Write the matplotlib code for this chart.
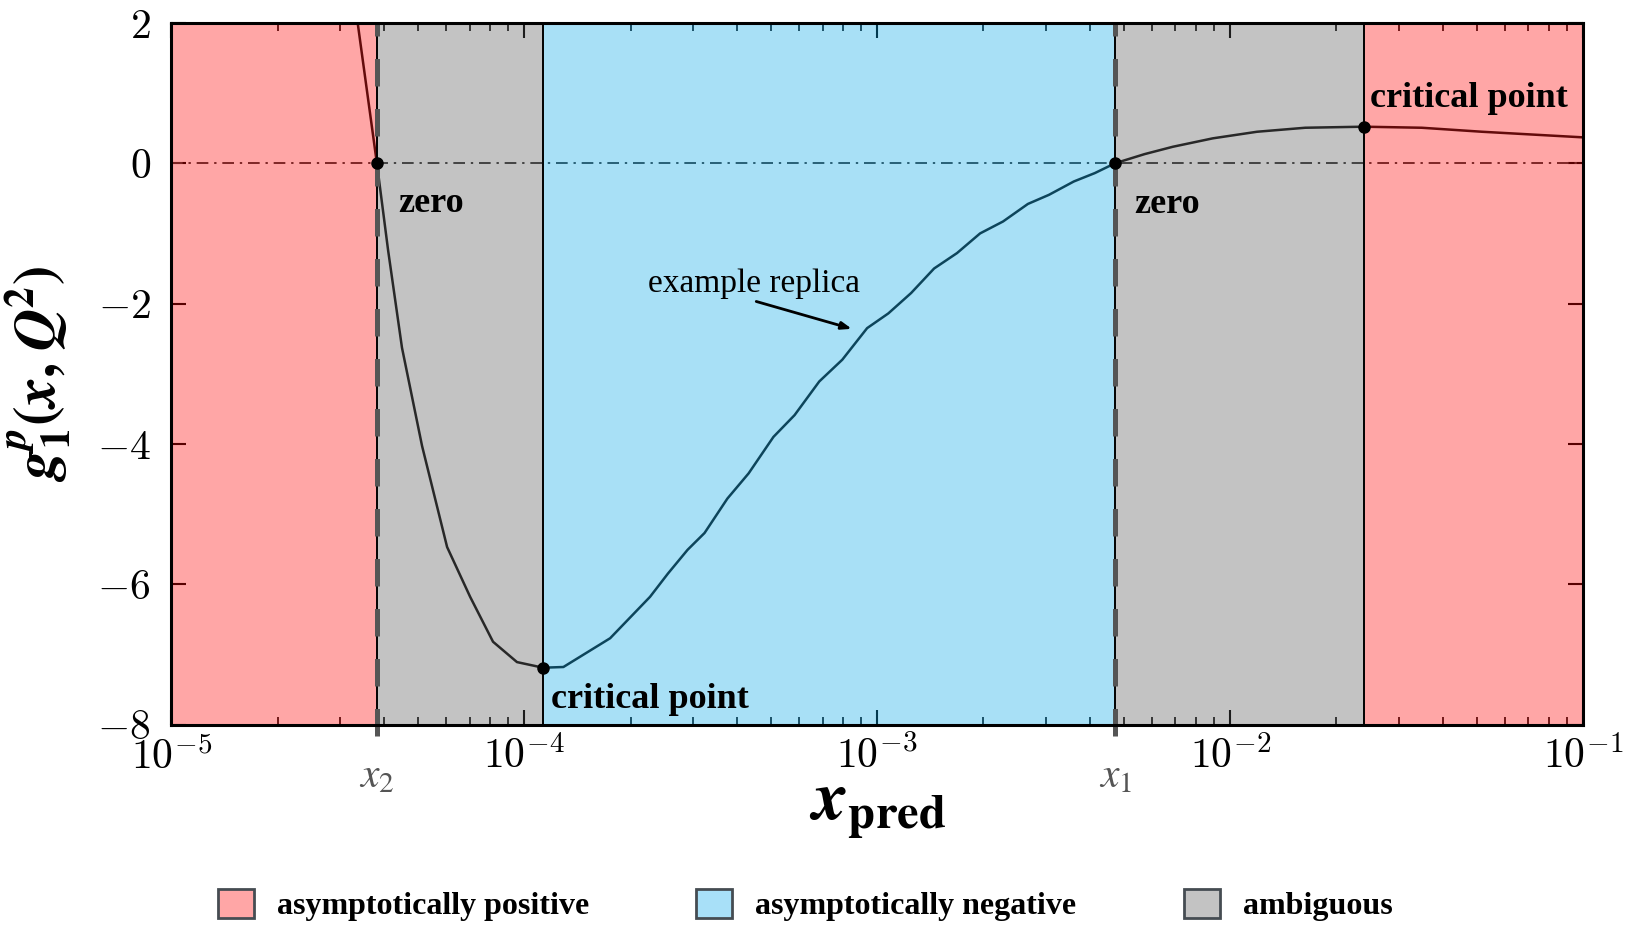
import numpy as np
import matplotlib
matplotlib.use("Agg")
import matplotlib.pyplot as plt
from matplotlib.patches import Patch
from matplotlib.ticker import FixedLocator, FuncFormatter, LogLocator

plt.rcParams["font.family"] = "serif"
plt.rcParams["font.serif"] = ["Liberation Serif", "DejaVu Serif"]
plt.rcParams["mathtext.fontset"] = "cm"

# example replica g1^p(x, Q^2)
x_rep = [3.37e-5, 3.82e-5, 4.11e-5, 4.50e-5, 5.13e-5, 6.04e-5, 7.02e-5, 8.15e-5,
         9.53e-5, 1.13e-4, 1.29e-4, 1.75e-4, 2.27e-4, 2.55e-4, 2.90e-4, 3.24e-4,
         3.76e-4, 4.32e-4, 5.08e-4, 5.83e-4, 6.85e-4, 7.96e-4, 9.36e-4, 1.075e-3,
         1.247e-3, 1.449e-3, 1.683e-3, 1.956e-3, 2.272e-3, 2.672e-3, 3.066e-3,
         3.605e-3, 4.136e-3, 4.72e-3, 5.72e-3, 6.88e-3, 8.93e-3, 1.192e-2,
         1.632e-2, 2.388e-2, 3.49e-2, 5.17e-2, 1.0e-1]
g_rep = [2.0, 0.0, -1.24, -2.63, -4.03, -5.47, -6.18, -6.82,
         -7.11, -7.19, -7.18, -6.77, -6.18, -5.85, -5.51, -5.27,
         -4.78, -4.42, -3.90, -3.59, -3.11, -2.80, -2.35, -2.14,
         -1.85, -1.50, -1.28, -1.00, -0.83, -0.58, -0.45,
         -0.26, -0.14, 0.0, 0.13, 0.235, 0.355, 0.449,
         0.506, 0.521, 0.506, 0.449, 0.369]

# region boundaries
x_min, x_max = 1e-5, 1e-1
x2 = 3.82e-5
x_crit_lo = 1.13e-4
x1 = 4.72e-3
x_crit_hi = 2.388e-2
g_crit_lo = -7.19
g_crit_hi = 0.521

regions = [
    (x_min, x2, "pos"),
    (x2, x_crit_lo, "amb"),
    (x_crit_lo, x1, "neg"),
    (x1, x_crit_hi, "amb"),
    (x_crit_hi, x_max, "pos"),
]
shade = {"pos": (1.0, 0.0, 0.0), "neg": (0.03, 0.66, 0.91), "amb": (0.33, 0.33, 0.33)}
legend_col = {"pos": "#ffa6a6", "neg": "#a8e0f8", "amb": "#c3c3c3"}
legend_txt = {"pos": "asymptotically positive", "neg": "asymptotically negative",
              "amb": "ambiguous"}

y_ticks = [-8, -6, -4, -2, 0, 2]

fig = plt.figure(figsize=(16.3, 9.32), dpi=100)
ax = fig.add_axes([0.1052, 0.2226, 0.8660, 0.7528])

ax.plot(x_rep, g_rep, color="#111111", lw=1.8, zorder=2)
ax.axhline(0, color="#3a3a3a", lw=1.4, ls=(0, (6, 3, 1.2, 3)), zorder=2)

for a, b, kind in regions:
    ax.axvspan(a, b, color=shade[kind], alpha=0.35, lw=0, zorder=3)

for xb in [x2, x_crit_lo, x1, x_crit_hi]:
    ax.axvline(xb, color="black", lw=1.4, zorder=4)
for xb in [x2, x1]:
    ax.axvline(xb, ymin=-0.016, ymax=1.0, color="#555555", lw=3.6,
               ls=(0, (5.5, 4.5)), zorder=5, clip_on=False)

ax.plot([x2, x1, x_crit_lo, x_crit_hi], [0, 0, g_crit_lo, g_crit_hi], "o",
        color="black", ms=8, zorder=6)

tb = dict(fontsize=26, fontweight="bold", zorder=7)
ax.text(4.38e-5, -0.69, "zero", ha="left", va="baseline", **tb)
ax.text(5.36e-3, -0.71, "zero", ha="left", va="baseline", **tb)
ax.text(1.187e-4, -7.77, "critical point", ha="left", va="baseline", **tb)
ax.text(2.496e-2, 0.806, "critical point", ha="left", va="baseline", **tb)

ax.text(2.239e-4, -1.83, "example replica", fontsize=24, ha="left",
        va="baseline", zorder=7)
ax.annotate("", xy=(8.47e-4, -2.36), xytext=(4.54e-4, -1.97), zorder=7,
            arrowprops=dict(arrowstyle="-|>,head_length=0.6,head_width=0.22",
                            color="black", lw=2, shrinkA=0, shrinkB=0))

trans = ax.get_xaxis_transform()
ax.text(x2, -0.075, "$x_2$", transform=trans, ha="center", va="center",
        fontsize=30, color="#555555", math_fontfamily="stix")
ax.text(x1, -0.075, "$x_1$", transform=trans, ha="center", va="center",
        fontsize=30, color="#555555", math_fontfamily="stix")

ax.set_xscale("log")
ax.set_xlim(x_min, x_max)
ax.set_ylim(-8, 2)
ax.set_axisbelow(True)
ax.xaxis.set_major_locator(LogLocator(base=10, numticks=10))
ax.xaxis.set_minor_locator(LogLocator(base=10, subs=np.arange(2, 10), numticks=20))
ax.xaxis.set_major_formatter(FuncFormatter(lambda v, p: r"$10^{%d}$" % round(np.log10(v))))
ax.yaxis.set_major_locator(FixedLocator(y_ticks))
ax.yaxis.set_major_formatter(FuncFormatter(lambda v, p: r"$%d$" % v))
ax.tick_params(which="both", direction="in", top=True, right=True, color="black")
ax.tick_params(which="major", length=11, width=1.5, labelsize=30)
ax.tick_params(which="minor", length=6, width=1.2)
ax.tick_params(axis="x", which="major", pad=9)
ax.tick_params(axis="y", which="major", pad=15)
for sp in ax.spines.values():
    sp.set_linewidth(2.2)
    sp.set_zorder(10)

ax.set_xlabel(r"$\mathbfit{x}_{\mathbf{pred}}$", fontsize=50, labelpad=0,
              math_fontfamily="stix")
ax.set_ylabel(r"$\mathbfit{g}_{\mathbf{1}}^{\mathbfit{p}}\mathbf{(}\mathbfit{x}\mathbf{,}\;"
              r"\mathbfit{Q}^{\mathbf{2}}\mathbf{)}$", fontsize=42, labelpad=16,
              math_fontfamily="stix")

handles = [Patch(facecolor=legend_col[k], edgecolor="#454c52", lw=2,
                 label=legend_txt[k]) for k in ["pos", "neg", "amb"]]
fig.legend(handles=handles, loc="center", bbox_to_anchor=(0.494, 0.029), ncol=3,
           frameon=False, prop=dict(size=23, weight="bold"), handlelength=1.13,
           handleheight=1.04, handletextpad=0.72, columnspacing=3.35)

fig.savefig("out.png", dpi=100)
